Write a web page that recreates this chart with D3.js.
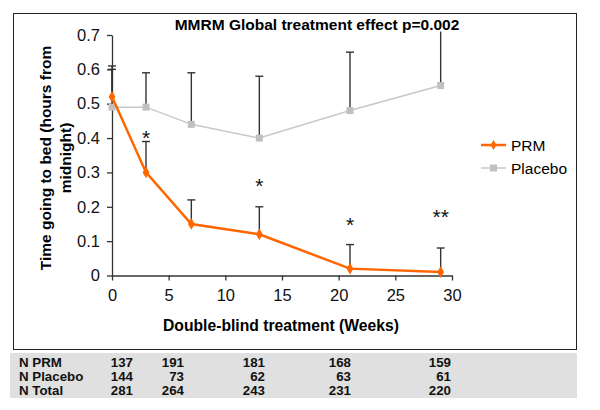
<!DOCTYPE html>
<html><head><meta charset="utf-8">
<script src="https://cdn.jsdelivr.net/npm/d3@7"></script>
<style>body{margin:0;background:#fff;} text{font-family:Arial, "Liberation Sans", sans-serif;}</style>
</head><body><svg id="c" width="600" height="410"></svg>
<script>
const weeks = [0, 3, 7, 13, 21, 29];
const prm = [0.52, 0.30, 0.15, 0.12, 0.02, 0.01];
const prmUpper = [0.61, 0.39, 0.22, 0.20, 0.09, 0.08];
const placebo = [0.49, 0.49, 0.44, 0.40, 0.48, 0.553];
const placeboUpper = [0.60, 0.59, 0.59, 0.58, 0.65, 0.71];
const stars = [{w: 3, y: 0.41, t: "*"}, {w: 13, y: 0.27, t: "*"}, {w: 21, y: 0.155, t: "*"}, {w: 29, y: 0.18, t: "**"}];
const xTicks = [0, 5, 10, 15, 20, 25, 30];
const yTicks = [0, 0.1, 0.2, 0.3, 0.4, 0.5, 0.6, 0.7];
const tableRows = ["N PRM", "N Placebo", "N Total"];
const tableVals = [[137, 191, 181, 168, 159], [144, 73, 62, 63, 61], [281, 264, 243, 231, 220]];

const svg = d3.select("#c");
const x = d3.scaleLinear().domain([0, 30]).range([112, 452]);
const y = d3.scaleLinear().domain([0, 0.7]).range([275.5, 35]);

// frame
svg.append("rect").attr("x", 13.5).attr("y", 13.5).attr("width", 563).attr("height", 336)
  .attr("fill", "none").attr("stroke", "#222").attr("stroke-width", 1);

// title
svg.append("text").attr("x", 317).attr("y", 30).attr("text-anchor", "middle")
  .attr("font-weight", "bold").attr("font-size", 15.5).text("MMRM Global treatment effect p=0.002");

// axes
const xAxis = svg.append("g").attr("transform", `translate(0,${y(0)})`)
  .call(d3.axisBottom(x).tickValues(xTicks).tickSize(5).tickSizeOuter(0).tickPadding(9).tickFormat(d3.format("d")));
const yAxis = svg.append("g").attr("transform", `translate(${x(0)},0)`)
  .call(d3.axisLeft(y).tickValues(yTicks).tickSize(5).tickSizeOuter(0).tickPadding(7).tickFormat(d => d === 0 ? "0" : d3.format(".1f")(d)));
[xAxis, yAxis].forEach(a => {
  a.select(".domain").attr("stroke", "#333").attr("stroke-width", 1.3);
  a.selectAll(".tick line").attr("stroke", "#333").attr("stroke-width", 1.3);
  a.selectAll(".tick text").attr("font-size", 16.5).attr("fill", "#111").style("font-family", "Arial, 'Liberation Sans', sans-serif");
});

// axis titles
svg.append("text").attr("x", 281).attr("y", 331).attr("text-anchor", "middle")
  .attr("font-weight", "bold").attr("font-size", 15.7).text("Double-blind treatment (Weeks)");
const yt = svg.append("text").attr("transform", "translate(0,158) rotate(-90)")
  .attr("text-anchor", "middle").attr("font-weight", "bold").attr("font-size", 15.5);
yt.append("tspan").attr("x", 0).attr("y", 51).text("Time going to bed (hours from");
yt.append("tspan").attr("x", 0).attr("y", 71).text("midnight)");

// error bars
function errBars(vals, ups, cap) {
  weeks.forEach((w, i) => {
    svg.append("line").attr("x1", x(w)).attr("x2", x(w)).attr("y1", y(vals[i])).attr("y2", y(ups[i]))
      .attr("stroke", "#333").attr("stroke-width", 1.4);
    if (cap && ups[i] <= 0.7) svg.append("line").attr("x1", x(w) - 4).attr("x2", x(w) + 4)
      .attr("y1", y(ups[i])).attr("y2", y(ups[i])).attr("stroke", "#333").attr("stroke-width", 1.4);
  });
}
errBars(placebo, placeboUpper, true);
errBars(prm, prmUpper, true);

// placebo line
const line = d3.line().x((d, i) => x(weeks[i])).y(d => y(d));
svg.append("path").datum(placebo).attr("d", line).attr("fill", "none").attr("stroke", "#c8c8c8").attr("stroke-width", 1.5);
svg.selectAll(".pm").data(placebo).enter().append("rect")
  .attr("x", (d, i) => x(weeks[i]) - 3.5).attr("y", d => y(d) - 3.5).attr("width", 7).attr("height", 7).attr("fill", "#c0c0c0");

// PRM line
svg.append("path").datum(prm).attr("d", line).attr("fill", "none").attr("stroke", "#ff6600").attr("stroke-width", 2.5);
svg.selectAll(".dm").data(prm).enter().append("path")
  .attr("d", d3.symbol(d3.symbolDiamond, 40)).attr("transform", (d, i) => `translate(${x(weeks[i])},${y(d)})`).attr("fill", "#ff6600");

// stars
svg.selectAll(".st").data(stars).enter().append("text")
  .attr("x", d => x(d.w)).attr("y", d => y(d.y) + 10).attr("text-anchor", "middle")
  .attr("font-size", 21).attr("fill", "#111").text(d => d.t);

// legend
const lg = svg.append("g");
lg.append("line").attr("x1", 481).attr("x2", 506).attr("y1", 145).attr("y2", 145).attr("stroke", "#ff6600").attr("stroke-width", 2.5);
lg.append("path").attr("d", d3.symbol(d3.symbolDiamond, 30)).attr("transform", "translate(493.5,145)").attr("fill", "#ff6600");
lg.append("text").attr("x", 511).attr("y", 151).attr("font-size", 15.5).text("PRM");
lg.append("line").attr("x1", 481).attr("x2", 506).attr("y1", 168).attr("y2", 168).attr("stroke", "#c8c8c8").attr("stroke-width", 1.5);
lg.append("rect").attr("x", 490).attr("y", 164.5).attr("width", 7).attr("height", 7).attr("fill", "#c0c0c0");
lg.append("text").attr("x", 511).attr("y", 174).attr("font-size", 15.5).text("Placebo");

// table
svg.append("rect").attr("x", 10).attr("y", 353).attr("width", 567).attr("height", 45).attr("fill", "#e0e0e0");
const colRight = [133, 184, 265, 351, 451];
tableRows.forEach((r, ri) => {
  const yy = 367 + ri * 14;
  svg.append("text").attr("x", 19).attr("y", yy).attr("font-weight", "bold").attr("font-size", 13.3).attr("fill", "#111").text(r);
  tableVals[ri].forEach((v, ci) => {
    svg.append("text").attr("x", colRight[ci]).attr("y", yy).attr("text-anchor", "end")
      .attr("font-weight", "bold").attr("font-size", 13.3).attr("fill", "#111").text(v);
  });
});
</script></body></html>
